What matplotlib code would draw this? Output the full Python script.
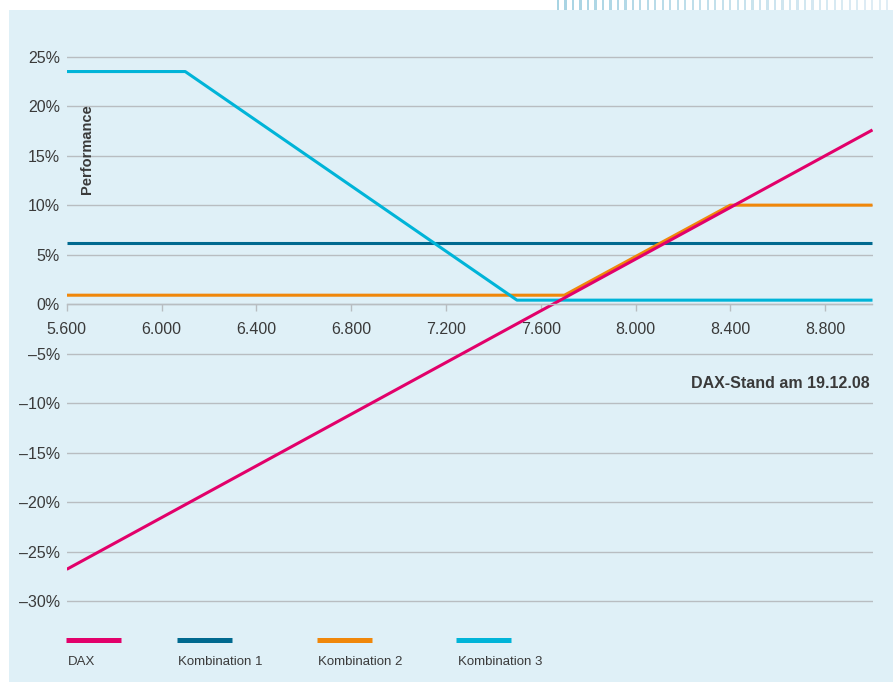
import matplotlib
matplotlib.use('Agg')
import matplotlib.pyplot as plt
from matplotlib.lines import Line2D
from matplotlib.patches import Rectangle

# DAX-Stand (x) und Performance in % (y)
dax_x = [5600, 9000]
dax_y = [-26.8, 17.6]
komb1_x = [5600, 9000]
komb1_y = [6.2, 6.2]
komb2_x = [5600, 7700, 8400, 9000]
komb2_y = [0.9, 0.9, 10.0, 10.0]
komb3_x = [5600, 6100, 7500, 9000]
komb3_y = [23.5, 23.5, 0.4, 0.4]

series_names = ['DAX', 'Kombination 1', 'Kombination 2', 'Kombination 3']
series_colors = ['#e2006a', '#00698f', '#f0870a', '#00b4d8']

x_ticks = [5600, 6000, 6400, 6800, 7200, 7600, 8000, 8400, 8800]
y_ticks = [25, 20, 15, 10, 5, 0, -5, -10, -15, -20, -25, -30]

bg = '#dff0f7'
grid_col = '#b8bdc1'
text_col = '#3a3a3a'
plt.rcParams['font.family'] = ['Liberation Sans Narrow', 'Liberation Sans', 'DejaVu Sans']

W, H = 893, 682
fig = plt.figure(figsize=(W / 100, H / 100), dpi=100)
fig.patch.set_facecolor('white')

# hellblaues Panel und Streifen oben rechts
fig.patches.append(Rectangle((9 / W, 0), 1 - 9 / W, 1 - 10 / H, transform=fig.transFigure,
                             facecolor=bg, edgecolor='none', zorder=-5))
n_stripes = 45
for i in range(n_stripes):
    x0 = 557 + i * 7.48
    shade = i / (n_stripes - 1)
    col = (0.66 + 0.22 * shade, 0.83 + 0.10 * shade, 0.89 + 0.07 * shade)
    fig.patches.append(Rectangle((x0 / W, 1 - 10 / H), 2.2 / W, 10 / H,
                                 transform=fig.transFigure, facecolor=col,
                                 edgecolor='none', zorder=-5))

ax_l, ax_r = 66.7, 872.5
ax_t, ax_b = 46.8, 610.9
ax = fig.add_axes([ax_l / W, 1 - ax_b / H, (ax_r - ax_l) / W, (ax_b - ax_t) / H])
ax.set_facecolor('none')
ax.set_xlim(5600, 9000)
ax.set_ylim(-31, 26)

for s in ['top', 'right', 'left']:
    ax.spines[s].set_visible(False)
ax.spines['bottom'].set_position(('data', 0))
ax.spines['bottom'].set_color(grid_col)
ax.spines['bottom'].set_linewidth(1.0)

ax.set_yticks(y_ticks)
ax.set_yticklabels([f'{v}%'.replace('-', '\u2013') for v in y_ticks])
ax.set_xticks(x_ticks)
ax.set_xticklabels([f'{v:,}'.replace(',', '.') for v in x_ticks])
ax.tick_params(axis='y', length=0, pad=5, labelsize=11.5, labelcolor=text_col)
ax.tick_params(axis='x', direction='out', length=5, width=1, color=grid_col,
               pad=8, labelsize=11.5, labelcolor=text_col)
ax.yaxis.grid(True, color=grid_col, linewidth=1.0)
ax.set_axisbelow(True)

lw = 2.2
ax.plot(komb1_x, komb1_y, color=series_colors[1], lw=lw, solid_capstyle='butt')
ax.plot(komb2_x, komb2_y, color=series_colors[2], lw=lw, solid_capstyle='butt')
ax.plot(komb3_x, komb3_y, color=series_colors[3], lw=lw, solid_capstyle='butt')
ax.plot(dax_x, dax_y, color=series_colors[0], lw=lw, solid_capstyle='butt')

ax.text(0.0252, 0.8986, 'Performance', rotation=90, ha='center', va='top',
        transform=ax.transAxes, fontsize=10.5, fontweight='bold', color=text_col)
ax.text(0.9969, 0.404, 'DAX-Stand am 19.12.08', ha='right', va='center',
        transform=ax.transAxes, fontsize=11.5, fontweight='bold', color=text_col)

# Legende
leg_x = [66, 177, 317, 456]
for name, col, lx in zip(series_names, series_colors, leg_x):
    fig.lines.append(Line2D([lx / W, (lx + 55) / W], [1 - 640 / H, 1 - 640 / H],
                            transform=fig.transFigure, color=col, lw=3.6,
                            solid_capstyle='butt'))
    fig.text((lx + 1.5) / W, 1 - 662 / H, name, ha='left', va='center',
             fontsize=9.5, color=text_col)

fig.savefig('out.png', dpi=100)
